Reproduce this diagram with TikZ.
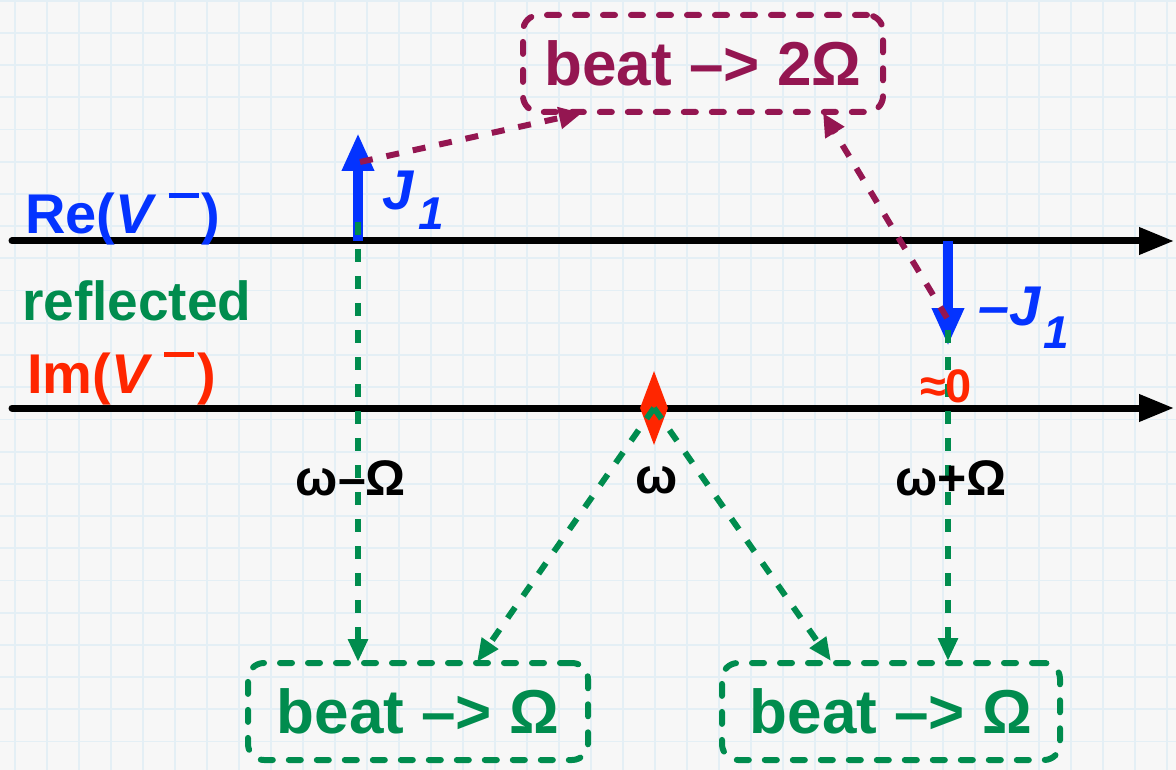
\documentclass[tikz,border=0pt]{standalone}
\usepackage{fontspec}
\setmainfont{Liberation Sans}
\usetikzlibrary{arrows.meta,shapes.geometric}
\definecolor{kblue}{RGB}{4,51,255}
\definecolor{kgreen}{RGB}{0,140,78}
\definecolor{kred}{RGB}{255,38,0}
\definecolor{kplum}{RGB}{148,22,81}
\definecolor{gridc}{RGB}{228,239,245}
\definecolor{bgc}{RGB}{247,247,247}
\newcommand{\myfs}[1]{\fontsize{#1}{#1}\selectfont}
\begin{document}
\begin{tikzpicture}[x=1pt,y=-1pt,
  axis/.style={line width=7pt, line cap=round, -{Triangle[length=35pt,width=26pt]}},
  jarrow/.style={draw=kblue, line width=10pt, -{Triangle[length=38pt,width=30pt]}},
  gdash/.style={draw=kgreen, line width=6pt, dash pattern=on 13pt off 14pt, -{Triangle[length=23pt,width=19pt]}},
  pdash/.style={draw=kplum, line width=6pt, dash pattern=on 13pt off 14pt, -{Triangle[length=23pt,width=21pt]}},
  beatbox/.style={line width=6pt, dash pattern=on 12pt off 16pt, line cap=round, rounded corners=16pt, inner sep=0pt, font=\myfs{62}\bfseries},
  lbl/.style={inner sep=0pt, font=\bfseries},
]
\fill[bgc] (0,0) rectangle (1176,770);
\useasboundingbox (0,0) rectangle (1176,770);
\foreach \i in {0,...,36} \draw[gridc, line width=1.8pt] ({15+32*\i},0) -- ({15+32*\i},770);
\foreach \j in {0,...,23} \draw[gridc, line width=1.8pt] (0,{0.8+32.2*\j}) -- (1176,{0.8+32.2*\j});

% axes
\coordinate (reL) at (12,241);
\coordinate (reR) at (1174,241);
\coordinate (imL) at (12,408);
\coordinate (imR) at (1174,408);
\draw[axis] (reL) -- (reR);
\draw[axis] (imL) -- (imR);

% diamond
\node[diamond, fill=kred, minimum width=28pt, minimum height=74pt, inner sep=0pt] (dia) at (654,408) {};

% boxes
\node[beatbox, draw=kplum, text=kplum, minimum width=360pt, minimum height=97pt] (top) at (703,63.5) {beat –> 2Ω};
\node[beatbox, draw=kgreen, text=kgreen, minimum width=340pt, minimum height=97pt] (bl) at (418,711.5) {beat –> Ω};
\node[beatbox, draw=kgreen, text=kgreen, minimum width=338pt, minimum height=97pt] (br) at (891,711.5) {beat –> Ω};

% J arrows
\coordinate (j1b) at (358,241);
\coordinate (j1t) at (358,133);
\coordinate (j2b) at (948,241);
\coordinate (j2t) at (948,346);
\draw[jarrow] (j1b) -- (j1t);
\draw[jarrow] (j2b) -- (j2t);

% green connectors
\coordinate (g1s) at (358,222);
\coordinate (g2s) at (948,330);
\coordinate (blA) at (358,662);
\coordinate (blB) at (477,662);
\coordinate (brA) at (831,661);
\coordinate (brB) at (948,661);
\draw[gdash] (g1s) -- (blA);
\draw[gdash] (g2s) -- (brB);
\draw[gdash] (dia.center) -- (blB);
\draw[gdash] (dia.center) -- (brA);

% plum connectors
\coordinate (p1s) at (360,162);
\coordinate (p1e) at (582,113);
\coordinate (p2s) at (947,318);
\coordinate (p2e) at (823,113);
\draw[pdash] (p1s) -- (p1e);
\draw[pdash] (p2s) -- (p2e);

% labels
\node[lbl, text=kblue, anchor=base west, font=\myfs{56}\bfseries] (re) at (25,234)
  {Re(\textit{V}\hspace{12pt}\raisebox{36pt}{\rule{30pt}{5pt}}\hspace{3pt})};
\node[lbl, text=kgreen, anchor=base west, font=\myfs{55}\bfseries] (refl) at (22,320) {reflected};
\node[lbl, text=kred, anchor=base west, font=\myfs{56}\bfseries] (im) at (27,393)
  {Im(\textit{V}\hspace{12pt}\raisebox{36pt}{\rule{30pt}{5pt}}\hspace{3pt})};

\node[lbl, text=kblue, anchor=base west, font=\myfs{56}\bfseries\itshape] (j1) at (382,210)
  {J\hspace{5pt}\raisebox{-20pt}{\myfs{46}1}};
\node[lbl, text=kblue, anchor=base west, font=\myfs{56}\bfseries\itshape] (j2) at (978,325)
  {–J\hspace{3pt}\raisebox{-23pt}{\myfs{46}1}};
\node[lbl, text=kred, anchor=base, font=\myfs{47}\bfseries] (zero) at (946,402) {≈0};

\node[lbl, anchor=base, font=\myfs{50}\bfseries] (wm) at (351,495) {ω–Ω};
\node[lbl, anchor=base, font=\myfs{50}\bfseries] (w) at (657,493) {ω};
\node[lbl, anchor=base, font=\myfs{50}\bfseries] (wp) at (951,495) {ω+Ω};
\end{tikzpicture}
\end{document}
